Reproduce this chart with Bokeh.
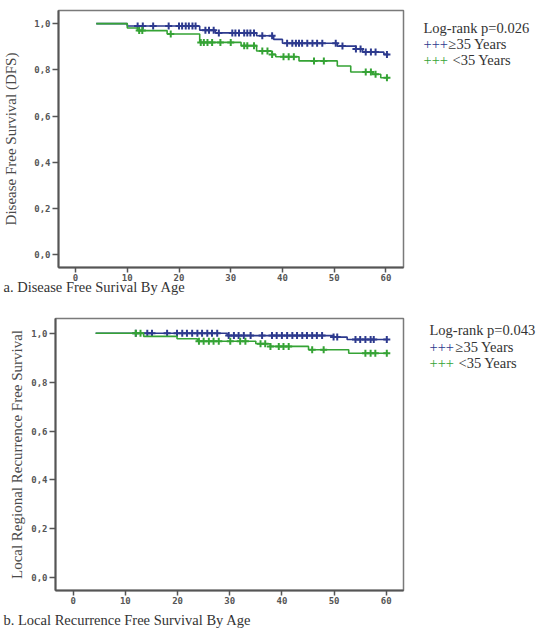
import numpy as np
from bokeh.plotting import figure
from bokeh.models import Label, FixedTicker, CustomJSTickFormatter, Range1d
from bokeh.layouts import column, row
from bokeh.embed import file_html
from bokeh.resources import INLINE

# ---------------- data ----------------
x_ticks = [0, 10, 20, 30, 40, 50, 60]
y_ticks = [0.0, 0.2, 0.4, 0.6, 0.8, 1.0]

# Figure a: Disease free survival
dfs_old_t = [4, 10, 24, 27, 35, 38.3, 40, 50.6, 54.2, 55.5, 59.6, 60.5]
dfs_old_s = [1.0, 0.99, 0.972, 0.960, 0.948, 0.932, 0.915, 0.903, 0.890, 0.877, 0.867, 0.867]
dfs_young_t = [4, 10, 12, 17.7, 24, 32, 35, 38, 38.7, 43.2, 50.6, 53.2, 57.4, 59, 60.5]
dfs_young_s = [1.0, 0.981, 0.970, 0.955, 0.919, 0.905, 0.882, 0.867, 0.857, 0.839, 0.817, 0.791, 0.781, 0.766, 0.766]
dfs_old_cens = [12, 13, 15, 18, 20, 20.6, 21.3, 21.9, 22.6, 23.2, 25.1, 25.8, 26.7, 27.7, 30.3, 30.9,
                31.6, 32.6, 33.2, 33.8, 34.5, 36.1, 38, 40.9, 41.9, 42.6, 43.2, 43.8, 44.8, 45.8, 46.7,
                47.7, 50.3, 51.6, 54.2, 55.1, 56.1, 57.1, 58, 60.2]
dfs_young_cens = [12.3, 12.9, 18.4, 24.2, 24.8, 25.5, 26.4, 28, 30, 32.6, 33.2, 34.5, 36.1, 37.1, 38,
                  40.2, 41.2, 42.2, 46.1, 48, 56.1, 57.1, 58, 60.2]

# Figure b: Local regional recurrence free survival
lrr_old_t = [4.3, 29.5, 49.9, 52.5, 60.3]
lrr_old_s = [1.0, 0.990, 0.984, 0.974, 0.974]
lrr_young_t = [4.3, 13.5, 19.9, 23.8, 35, 37.8, 45.1, 52.8, 60.3]
lrr_young_s = [1.0, 0.987, 0.977, 0.967, 0.957, 0.946, 0.932, 0.918, 0.918]
lrr_old_cens = [12, 14.2, 15.1, 18, 19.9, 20.9, 21.8, 22.8, 23.8, 24.7, 25.7, 26.6, 27.6, 29.8, 30.8,
                31.7, 32.7, 34, 36.2, 38.1, 39, 40, 41, 42, 42.9, 43.9, 44.8, 45.8, 46.7, 47.7, 49.9,
                50.6, 54.1, 55, 56, 57, 57.6, 60.1]
lrr_young_cens = [12, 12.9, 24.1, 25, 26, 26.9, 27.9, 30.1, 32, 33, 35.9, 36.8, 37.8, 39.4, 40.3, 41.3,
                  45.8, 48, 56, 57, 57.9, 60.1]

titles = ["a. Disease Free Surival By Age", "b. Local Recurrence Free Survival By Age"]
ylabels = ["Disease Free Survival (DFS)", "Local Regional Recurrence Free Survival"]
logrank = ["Log-rank p=0.026", "Log-rank p=0.043"]
groups = ["\u226535 Years", "<35 Years"]

BLUE = "#2d3a8e"
GREEN = "#35a335"
SERIF = "Liberation Serif"
TXT = "#333333"


def step_value(ts, ss, t):
    i = np.searchsorted(np.array(ts), t, side="right") - 1
    return ss[max(i, 0)]


def chart(W, H, fl, fr, ft, fb, xr, yr, old_t, old_s, young_t, young_s, old_c, young_c,
          ylabel, ysize, ystand):
    p = figure(width=W, height=H, output_backend="svg", toolbar_location=None,
               x_range=Range1d(*xr), y_range=Range1d(*yr),
               min_border_left=fl, min_border_right=fr, min_border_top=ft, min_border_bottom=fb)
    p.title = None
    p.xgrid.visible = False
    p.ygrid.visible = False
    p.outline_line_color = "#7a7a7a"
    p.outline_line_width = 1.5
    p.background_fill_color = "white"
    p.border_fill_color = "white"

    for ax in (p.xaxis[0], p.yaxis[0]):
        ax.axis_line_color = "#555555"
        ax.axis_line_width = 2
        ax.major_tick_line_color = "#555555"
        ax.major_tick_line_width = 1.5
        ax.major_tick_out = 6
        ax.major_tick_in = 0
        ax.minor_tick_line_color = None
        ax.major_label_text_font = "DejaVu Sans Mono"
        ax.major_label_text_font_style = "bold"
        ax.major_label_text_font_size = "9px"
        ax.major_label_text_color = "#555555"
    p.xaxis.major_tick_out = 5
    p.xaxis.ticker = FixedTicker(ticks=x_ticks)
    p.yaxis.ticker = FixedTicker(ticks=y_ticks)
    p.yaxis.formatter = CustomJSTickFormatter(code="return tick.toFixed(1).replace('.', ',');")
    p.xaxis.major_label_standoff = 1
    p.yaxis.major_label_standoff = 2
    p.yaxis.axis_label = ylabel
    p.yaxis.axis_label_text_font = SERIF
    p.yaxis.axis_label_text_font_style = "normal"
    p.yaxis.axis_label_text_font_size = ysize
    p.yaxis.axis_label_text_color = "#4a4a4a"
    p.yaxis.axis_label_standoff = ystand

    p.step(old_t, old_s, mode="after", line_color=BLUE, line_width=1.6)
    p.scatter(old_c, [step_value(old_t, old_s, c) for c in old_c], marker="cross",
              size=7, line_color=BLUE, line_width=2)
    p.step(young_t, young_s, mode="after", line_color=GREEN, line_width=1.6)
    p.scatter(young_c, [step_value(young_t, young_s, c) for c in young_c], marker="cross",
              size=7, line_color=GREEN, line_width=2)
    return p


def text_fig(W, H, transparent=False):
    p = figure(width=W, height=H, output_backend="svg", toolbar_location=None,
               x_axis_type=None, y_axis_type=None,
               x_range=Range1d(0, W), y_range=Range1d(H, 0),
               min_border=0, min_border_left=0, min_border_right=0,
               min_border_top=0, min_border_bottom=0)
    p.title = None
    p.grid.visible = False
    p.outline_line_color = None
    if transparent:
        p.background_fill_color = None
        p.border_fill_color = None
    else:
        p.background_fill_color = "white"
        p.border_fill_color = "white"
    return p


def put(p, x, y, text, color=TXT, size="14px"):
    p.add_layout(Label(x=x, y=y, text=text, text_color=color, text_font_size=size,
                       text_font=SERIF, text_align="left", text_baseline="middle"))


def legend_fig(W, H, x0, ys, lr, offs, size):
    p = text_fig(W, H)
    put(p, x0, ys[0], lr, size=size)
    put(p, x0, ys[1], "+++", color=BLUE, size=size)
    put(p, x0 + offs[0], ys[1], groups[0], size=size)
    put(p, x0, ys[2], "+++", color=GREEN, size=size)
    put(p, x0 + offs[1], ys[2], groups[1], size=size)
    return p


def title_fig(W, H, x0, y0, text, transparent=False):
    p = text_fig(W, H, transparent)
    put(p, x0, y0, text, size="14.5px")
    return p


c1 = chart(405, 284, 58, 2, 10, 17, (-3.3, 63.4), (-0.055, 1.057),
           dfs_old_t, dfs_old_s, dfs_young_t, dfs_young_s, dfs_old_cens, dfs_young_cens,
           ylabels[0], "15px", 12)
l1 = legend_fig(134, 284, 18, (19, 37, 55), logrank[0], (25, 29), "14.5px")
t1 = title_fig(539, 29, 3, 10, titles[0], transparent=True)
t1.margin = (-8, 0, 0, 0)

c2 = chart(405, 302, 55, 2, 13, 17, (-3.39, 63.3), (-0.052, 1.060),
           lrr_old_t, lrr_old_s, lrr_young_t, lrr_young_s, lrr_old_cens, lrr_young_cens,
           ylabels[1], "15px", 3)
l2 = legend_fig(134, 302, 24, (13, 32, 49), logrank[1], (26, 29), "14.5px")
t2 = title_fig(539, 24, 3, 12, titles[1])

layout = column(row(c1, l1, spacing=0), t1, row(c2, l2, spacing=0), t2, spacing=0)
open("out.html", "w").write(file_html(layout, INLINE))
